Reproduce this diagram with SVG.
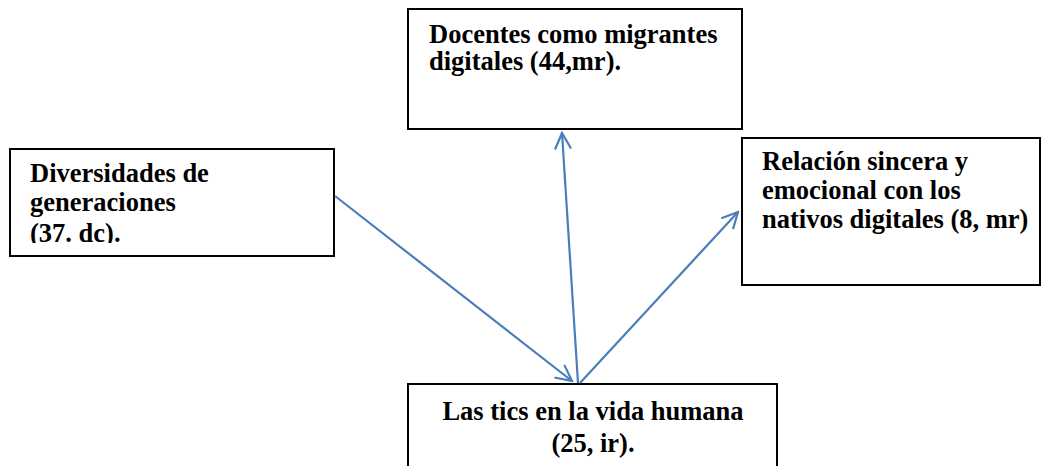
<svg xmlns="http://www.w3.org/2000/svg" width="1047" height="466" viewBox="0 0 1047 466">
<style>
.box{fill:#fff;stroke:#000;stroke-width:2}
.t{font-family:'Liberation Serif','Times New Roman',Times,serif;font-weight:700;font-size:26.5px;fill:#000}
.c{fill:none;stroke:#4a7ebb;stroke-width:2.2}
</style>
<defs>
<marker id="ah" viewBox="0 0 20 20" refX="18" refY="10" markerWidth="20" markerHeight="20" markerUnits="userSpaceOnUse" orient="auto">
<path d="M2,2 L18,10 L2,18" fill="none" stroke="#4a7ebb" stroke-width="2.2"/>
</marker>
<clipPath id="cl1"><rect x="10" y="149" width="324" height="94"/></clipPath>
</defs>
<rect width="1047" height="466" fill="#fff"/>
<g id="n1">
<rect class="box" x="10" y="149" width="324" height="107"/>
<g clip-path="url(#cl1)">
<text class="t" x="30" y="182">Diversidades de</text>
<text class="t" x="30" y="211">generaciones</text>
<text class="t" x="30" y="242">(37. dc).</text>
</g>
</g>
<g id="n2">
<rect class="box" x="408" y="9" width="334" height="120"/>
<text class="t" x="429" y="43">Docentes como migrantes</text>
<text class="t" x="429" y="70">digitales (44,mr).</text>
</g>
<g id="n3">
<rect class="box" x="742" y="138" width="298" height="147"/>
<text class="t" x="762" y="170">Relación sincera y</text>
<text class="t" x="762" y="199">emocional con los</text>
<text class="t" x="762" y="228">nativos digitales (8, mr)</text>
</g>
<g id="n4">
<rect class="box" x="408" y="384" width="369" height="90"/>
<text class="t" x="593" y="420" text-anchor="middle">Las tics en la vida humana</text>
<text class="t" x="593" y="452" text-anchor="middle">(25, ir).</text>
</g>
<g id="connectors">
<line class="c" x1="335" y1="196" x2="572" y2="381" marker-end="url(#ah)"/>
<line class="c" x1="578" y1="383" x2="562" y2="133" marker-end="url(#ah)"/>
<line class="c" x1="580" y1="383" x2="738" y2="212" marker-end="url(#ah)"/>
</g>
</svg>
